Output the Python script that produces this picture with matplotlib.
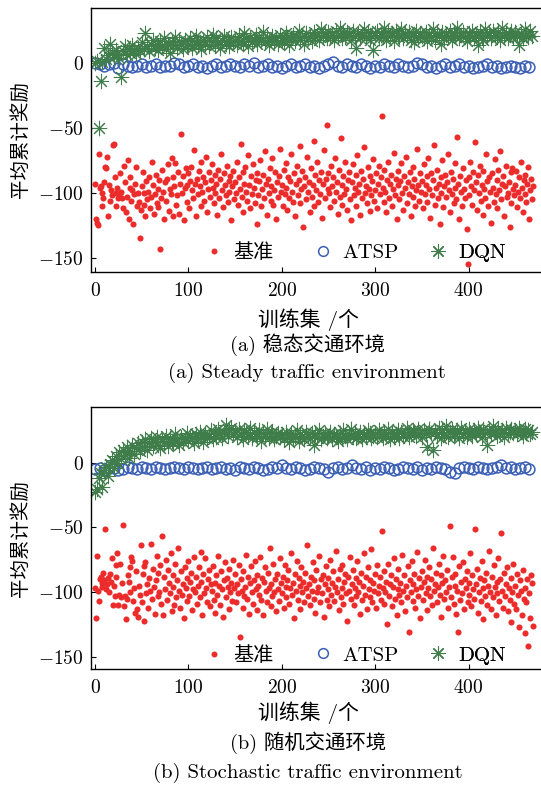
import numpy as np
import matplotlib
matplotlib.use("Agg")
import matplotlib.pyplot as plt

plt.rcParams['font.family'] = ['cmr10', 'Noto Sans CJK SC', 'DejaVu Sans']
plt.rcParams['mathtext.fontset'] = 'cm'
plt.rcParams['axes.formatter.use_mathtext'] = True
plt.rcParams['axes.unicode_minus'] = True

# (a) steady traffic: baseline reward, one point per episode
red_a = [
    -93, -120, -123, -125, -70, -96, -95, -110, -100, -104, -92, -80, -81, -72, -118, -94, -106, -98, -102, -63, -62, -88, -100, -110, -96,
    -104, -101, -85, -99, -104, -112, -79, -92, -115, -103, -75, -120, -88, -96, -106, -98, -124, -101, -93, -80, -110, -100, -107, -135, -113,
    -95, -84, -100, -109, -118, -91, -105, -99, -88, -112, -103, -76, -94, -116, -101, -86, -108, -97, -111, -90, -143, -104, -82, -99, -120,
    -92, -106, -89, -78, -114, -97, -101, -73, -118, -88, -95, -77, -109, -102, -84, -116, -93, -55, -100, -87, -121, -96, -81, -107, -94,
    -85, -112, -91, -80, -98, -104, -67, -93, -118, -89, -101, -83, -95, -110, -76, -99, -88, -106, -92, -72, -115, -97, -84, -103, -90,
    -78, -96, -108, -86, -100, -93, -117, -82, -104, -89, -70, -98, -111, -85, -94, -102, -79, -107, -91, -99, -87, -121, -95, -83, -105,
    -92, -100, -76, -109, -88, -97, -62, -103, -84, -115, -93, -80, -99, -106, -71, -94, -112, -87, -101, -78, -96, -108, -90, -124, -85,
    -102, -91, -75, -110, -97, -86, -104, -68, -93, -117, -89, -100, -81, -106, -95, -73, -109, -98, -84, -120, -92, -103, -87, -66, -99,
    -94, -110, -82, -101, -77, -96, -113, -88, -104, -91, -70, -99, -107, -85, -118, -93, -79, -102, -90, -64, -108, -97, -83, -126, -95,
    -88, -105, -72, -99, -92, -115, -81, -103, -94, -60, -110, -86, -98, -76, -107, -90, -101, -84, -119, -93, -67, -104, -89, -48, -97,
    -85, -100, -111, -79, -95, -88, -106, -73, -99, -92, -116, -82, -103, -58, -94, -109, -87, -101, -76, -97, -113, -90, -84, -105, -121,
    -92, -78, -102, -96, -86, -110, -71, -99, -93, -117, -83, -104, -89, -65, -100, -95, -108, -80, -97, -114, -87, -102, -91, -74, -106,
    -98, -85, -112, -93, -79, -101, -88, -41, -96, -107, -82, -99, -115, -90, -76, -104, -93, -86, -110, -97, -69, -102, -89, -120, -94,
    -83, -105, -91, -77, -100, -113, -87, -96, -72, -108, -92, -101, -84, -118, -95, -80, -103, -89, -110, -98, -66, -94, -106, -85, -99,
    -91, -112, -78, -101, -94, -87, -107, -73, -97, -119, -85, -102, -90, -63, -109, -96, -82, -104, -93, -124, -88, -100, -75, -111, -95,
    -86, -103, -92, -70, -98, -115, -84, -101, -89, -108, -77, -96, -105, -57, -93, -120, -87, -99, -110, -81, -97, -104, -90, -128, -155,
    -88, -102, -76, -95, -109, -84, -98, -61, -92, -113, -86, -100, -79, -106, -94, -117, -83, -97, -104, -70, -91, -110, -88, -99, -123,
    -85, -96, -107, -74, -101, -90, -112, -82, -98, -68, -105, -93, -87, -118, -95, -79, -103, -100, -92, -126, -84, -108, -81, -97, -102,
    -94, -83, -111, -99, -88, -104, -76, -96, -115, -90, -101, -86, -107, -93, -80, -120, -98, -89, -105, -95,
]

# (a) ATSP reward, every 5 episodes
atsp_a = [
    0, -1, -2, -1, 0, -4, -1, -2, -3, -2,
    -1, -3, -2, -1, -3, -2, -2, 0, -1, -3,
    -2, -1, -3, -2, -4, -2, -1, -3, -2, -1,
    -2, -3, -1, -2, 0, -3, -2, -1, -3, -2,
    -4, -2, -1, -3, -2, -1, -3, -2, -4, -2,
    -1, 1, -2, -3, -1, -2, -3, -1, -2, -4,
    -2, -3, -1, -2, -3, -1, -2, -3, -2, 0,
    -1, -3, -2, -4, -2, -1, -3, -2, -1, -3,
    -2, -4, -3, -2, -1, -3, -2, -4, -3, -2,
    -3, -4, -2, -3,
]

# (a) DQN reward, every 2 episodes
dqn_a = [
    0, 2, -50, -14, 1, 12, 3, 6, 15, 8, 5, 10, 7, 4, -11, 9, 13, 6, 11, 8, 14, 10, 7, 12, 9,
    16, 11, 23, 13, 9, 15, 18, 12, 14, 10, 17, 13, 19, 11, 15, 8, 16, 14, 20, 12, 17, 15, 11, 18, 13,
    15, 19, 12, 17, 21, 14, 16, 11, 18, 15, 20, 13, 17, 22, 14, 19, 16, 12, 18, 21, 15, 17, 13, 20, 16,
    18, 14, 21, 17, 15, 23, 19, 13, 20, 16, 18, 22, 15, 19, 17, 24, 16, 20, 14, 18, 21, 17, 19, 15, 22,
    18, 16, 23, 20, 14, 19, 22, 17, 21, 25, 18, 20, 15, 23, 19, 21, 17, 24, 20, 22, 18, 26, 21, 23, 19,
    24, 20, 22, 18, 25, 21, 27, 19, 23, 20, 24, 22, 18, 25, 21, 12, 23, 19, 22, 26, 20, 24, 18, 21, 10,
    23, 25, 19, 22, 20, 27, 18, 24, 21, 23, 17, 25, 22, 20, 26, 19, 23, 21, 24, 18, 22, 16, 25, 20, 23,
    21, 19, 24, 17, 22, 20, 26, 18, 23, 21, 15, 24, 19, 22, 20, 25, 18, 23, 21, 27, 19, 22, 24, 20, 17,
    23, 21, 25, 19, 22, 14, 24, 20, 18, 26, 21, 23, 19, 25, 22, 20, 24, 18, 27, 21, 23, 19, 22, 25, 20,
    24, 21, 14, 23, 19, 26, 22, 20, 25, 21,
]

# (b) stochastic traffic
red_b = [
    -97, -120, -72, -99, -107, -90, -88, -93, -96, -85, -91, -51, -98, -94, -89, -100, -86, -92, -74, -110, -95, -103, -79, -88, -70,
    -110, -102, -78, -104, -93, -48, -111, -103, -121, -105, -87, -92, -81, -100, -73, -76, -107, -97, -116, -84, -113, -119, -95, -102, -64,
    -108, -86, -80, -122, -77, -101, -94, -112, -89, -99, -63, -105, -82, -96, -117, -91, -72, -103, -85, -100, -79, -109, -57, -118, -88,
    -98, -75, -106, -83, -93, -101, -70, -115, -87, -96, -110, -78, -104, -91, -66, -99, -112, -84, -102, -94, -120, -81, -97, -107, -89,
    -76, -103, -92, -85, -114, -98, -73, -100, -88, -109, -95, -81, -104, -69, -92, -118, -86, -101, -74, -97, -108, -90, -83, -111, -94,
    -99, -80, -106, -93, -116, -87, -102, -72, -95, -110, -84, -98, -119, -91, -77, -104, -89, -96, -113, -82, -100, -93, -107, -75, -97,
    -86, -108, -94, -101, -79, -135, -90, -99, -112, -84, -103, -96, -71, -105, -88, -117, -93, -80, -100, -109, -91, -76, -98, -114, -87,
    -95, -102, -73, -106, -89, -118, -92, -81, -99, -108, -85, -97, -66, -111, -94, -103, -78, -100, -90, -115, -86, -98, -107, -74, -93,
    -101, -88, -112, -79, -96, -104, -91, -83, -109, -97, -70, -102, -93, -120, -86, -99, -76, -106, -89, -95, -113, -81, -100, -92, -108,
    -85, -97, -64, -103, -94, -110, -88, -99, -77, -105, -91, -116, -83, -100, -96, -72, -108, -90, -101, -87, -119, -94, -80, -106, -98,
    -89, -111, -75, -102, -93, -84, -107, -96, -68, -100, -90, -114, -82, -104, -97, -79, -109, -92, -86, -101, -122, -88, -99, -73, -105,
    -94, -83, -110, -97, -89, -103, -76, -100, -92, -117, -85, -106, -95, -70, -102, -88, -113, -81, -98, -104, -91, -67, -108, -93, -99,
    -86, -112, -79, -101, -95, -88, -106, -53, -97, -109, -84, -100, -92, -125, -78, -103, -94, -87, -111, -96, -74, -105, -90, -118, -98,
    -82, -102, -93, -108, -71, -99, -87, -115, -95, -104, -80, -131, -91, -100, -76, -107, -94, -86, -112, -98, -69, -103, -89, -120, -96,
    -84, -106, -92, -75, -101, -88, -114, -97, -81, -103, -90, -110, -66, -99, -94, -85, -108, -96, -78, -102, -87, -119, -93, -72, -105,
    -91, -100, -83, -112, -96, -49, -104, -88, -73, -109, -95, -86, -117, -99, -131, -80, -106, -92, -101, -77, -113, -90, -97, -84, -108,
    -93, -102, -70, -111, -87, -98, -105, -51, -94, -82, -116, -100, -89, -107, -76, -97, -121, -91, -103, -85, -110, -95, -68, -100, -113,
    -88, -104, -79, -96, -118, -92, -101, -74, -107, -90, -54, -99, -112, -85, -103, -94, -81, -115, -97, -106, -89, -123, -100, -78, -109,
    -95, -113, -86, -102, -127, -91, -99, -118, -83, -105, -97, -132, -108, -90, -142, -101, -120, -87, -93, -126,
]

atsp_b = [
    -5, -4, -6, -3, -4, -6, -5, -3, -4, -5,
    -3, -4, -5, -3, -4, -5, -4, -3, -4, -5,
    -3, -4, -5, -4, -3, -5, -4, -3, -5, -4,
    -6, -3, -4, -5, -3, -4, -6, -5, -3, -4,
    -2, -4, -5, -3, -4, -6, -5, -3, -4, -5,
    -7, -4, -3, -5, -4, -2, -4, -5, -3, -6,
    -4, -5, -3, -4, -6, -5, -3, -4, -5, -3,
    -6, -4, -5, -3, -4, -5, -7, -8, -4, -3,
    -4, -5, -3, -4, -5, -4, -3, -2, -4, -3,
    -5, -4, -3, -5,
]

dqn_b = [
    -23, -20, -12, -8, -19, -6, -3, -10, -1, 2, -4, 5, 0, 8, 3, 10, 6, 12, 4, 9, 14, 7, 11, 15, 9,
    16, 12, 18, 10, 15, 19, 13, 17, 20, 14, 11, 18, 16, 21, 13, 19, 17, 15, 22, 18, 14, 20, 16, 19, 23,
    17, 21, 19, 15, 22, 18, 24, 20, 16, 23, 19, 21, 25, 18, 22, 20, 26, 23, 19, 24, 29, 21, 25, 27, 22,
    24, 20, 26, 22, 18, 25, 23, 21, 27, 19, 24, 22, 20, 25, 17, 23, 21, 26, 19, 22, 24, 18, 21, 23, 20,
    22, 18, 24, 20, 16, 23, 19, 21, 25, 17, 22, 20, 18, 24, 21, 19, 23, 14, 22, 20, 25, 18, 21, 23, 19,
    21, 24, 18, 22, 20, 17, 23, 19, 25, 21, 18, 22, 26, 20, 23, 19, 21, 24, 18, 22, 20, 25, 23, 19, 21,
    23, 20, 25, 22, 19, 24, 21, 26, 18, 23, 20, 22, 25, 19, 24, 21, 23, 27, 20, 22, 25, 24, 21, 26, 23,
    20, 25, 22, 12, 26, 23, 10, 24, 21, 27, 19, 25, 22, 28, 20, 24, 26, 21, 23, 25, 19, 27, 22, 24, 20,
    26, 23, 21, 25, 22, 27, 24, 20, 26, 23, 14, 25, 22, 28, 24, 21, 26, 23, 25, 20, 27, 22, 24, 26, 23,
    25, 22, 27, 24, 21, 26, 23, 25, 22, 24,
]

labels = ["基准", "ATSP", "DQN"]
xticks = [0, 100, 200, 300, 400]
yticks = [0, -50, -100, -150]

RED = "#ec2b2b"
BLUE = "#3a5fb5"
GREEN = "#3f7d4a"

W, H = 541, 785
fig = plt.figure(figsize=(W / 100, H / 100), dpi=100)


def px_box(left, top, right, bottom):
    return [left / W, 1 - bottom / H, (right - left) / W, (bottom - top) / H]


def panel(left, top, right, bottom, red, atsp, dqn, ylim, leg_y):
    ax = fig.add_axes(px_box(left, top, right, bottom))
    h1, = ax.plot(np.arange(len(red)), red, "o", ms=4.4, color=RED, mec="none")
    h2, = ax.plot(np.arange(len(atsp)) * 5, atsp, "o", ms=7.8, mfc="none", mec=BLUE, mew=1.1)
    h3, = ax.plot(np.arange(len(dqn)) * 2, dqn, ls="none", marker=(8, 2, 0), ms=11, mec=GREEN,
                  mew=0.75, color=GREEN)
    ax.set_xlim(-4.6, 477.6)
    ax.set_ylim(*ylim)
    ax.set_xticks(xticks)
    ax.set_yticks(yticks)
    ax.spines["right"].set_visible(False)
    for s in ["left", "bottom", "top"]:
        ax.spines[s].set_linewidth(1.0)
    ax.tick_params(direction="in", length=3.5, width=0.8, labelsize=14)
    ax.tick_params(axis="x", pad=7)
    ax.tick_params(axis="y", pad=5)
    ax.set_ylabel("平均累计奖励", fontsize=14)
    ax.yaxis.set_label_coords((30 - left) / (right - left), 0.5)

    # legend entries placed one by one (markers at fixed spots)
    width = right - left
    entries = [
        (h1, labels[0], 214, 14.5, 4.3),
        (h2, labels[1], 323, 15, 7),
        (h3, labels[2], 438, 15, 10),
    ]
    for h, lab, mx, fs, ms in entries:
        hl = fs * 100 / 72 * 1.0
        leg = ax.legend([h], [lab], loc="center left",
                        bbox_to_anchor=((mx - hl / 2 - left) / width, leg_y),
                        frameon=False, fontsize=fs, handlelength=1.0, handletextpad=0.45,
                        borderpad=0, borderaxespad=0, numpoints=1)
        leg.legend_handles[0].set_markersize(ms)
        ax.add_artist(leg)
    return ax


panel(90.7, 8, 541, 272, red_a, atsp_a, dqn_a, (-161, 42.5), 0.072)
panel(90.7, 407.3, 541, 669.3, red_b, atsp_b, dqn_b, (-159.7, 42.8), 0.053)


def ftext(x, y, s, size=14):
    fig.text(x / W, 1 - y / H, s, ha="center", va="center", fontsize=size)


ftext(308, 320, "训练集 /个", 15)
ftext(308, 345, "(a) 稳态交通环境", 14.7)
ftext(307, 373, "(a) Steady traffic environment", 15)
ftext(308, 713, "训练集 /个", 15)
ftext(308, 743, "(b) 随机交通环境", 14.7)
ftext(308, 773, "(b) Stochastic traffic environment", 15)

fig.savefig("out.png", dpi=100)
